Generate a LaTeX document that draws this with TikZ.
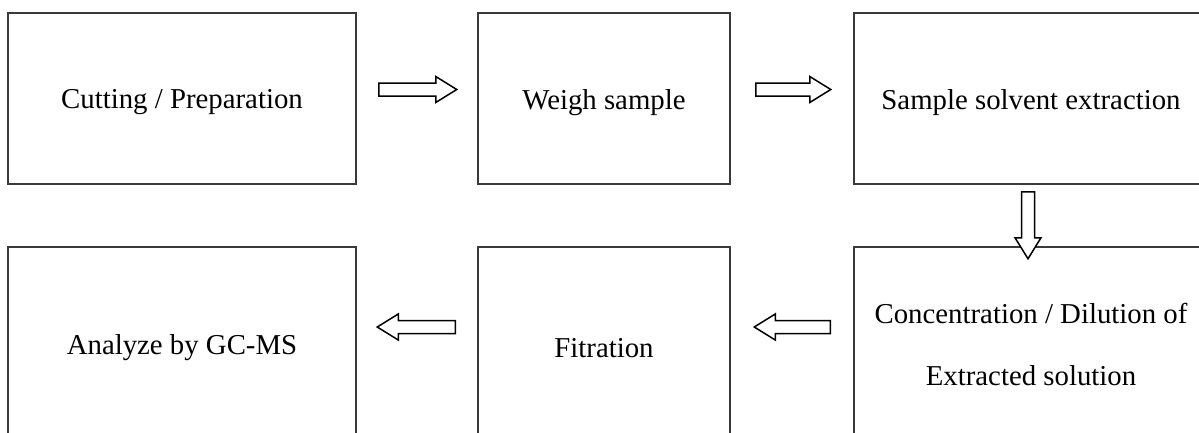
\documentclass[tikz,border=0pt]{standalone}
\usepackage{fontspec}
\setmainfont{Liberation Serif}
\usetikzlibrary{calc}
\definecolor{boxline}{HTML}{3A3A3A}
\tikzset{
  stepbox/.style={draw=boxline, line width=1.5pt, rectangle, inner sep=0pt},
  steptext/.style={align=center, inner sep=0pt, font=\fontsize{28.8}{62}\selectfont},
  pics/blockarrow/.style={code={
    \draw[black, line width=1.5pt, line join=miter, fill=white]
      (0,-6.5) -- (#1-21,-6.5) -- (#1-21,-13) -- (#1,0) -- (#1-21,13)
      -- (#1-21,6.5) -- (0,6.5) -- cycle;
  }},
}
\begin{document}
\begin{tikzpicture}[x=1pt,y=-1pt]
\useasboundingbox (0,0) rectangle (1199,432);
\clip (0,0) rectangle (1199,432);
\node[stepbox, minimum width=348pt, minimum height=171pt] (b1) at (182,98.5) {};
\node[stepbox, minimum width=252pt, minimum height=171pt] (b2) at (604,98.5) {};
\node[stepbox, minimum width=354pt, minimum height=171pt] (b3) at (1031,98.5) {};
\node[stepbox, minimum width=348pt, minimum height=194pt] (b4) at (182,344) {};
\node[stepbox, minimum width=252pt, minimum height=194pt] (b5) at (604,344) {};
\node[stepbox, minimum width=354pt, minimum height=194pt] (b6) at (1031,344) {};
\node[steptext] (t1) at ($(b1.center)+(0,4)$) {Cutting / Preparation};
\node[steptext] (t2) at ($(b2.center)+(0,4)$) {Weigh sample};
\node[steptext] (t3) at ($(b3.center)+(0,4)$) {Sample solvent extraction};
\node[steptext] (t4) at ($(b4.center)+(0,4)$) {Analyze by GC-MS};
\node[steptext] (t5) at ($(b5.center)+(0,4)$) {Fitration};
\node[steptext] (t6) at (b6.center) {Concentration / Dilution of\\Extracted solution};
% arrow start coordinates
\coordinate (a1) at ($(b1.east)+(22,-9)$);
\coordinate (a2) at ($(b2.east)+(25,-9)$);
\coordinate (a3) at ($(b3.south)+(-3,7)$);
\coordinate (a4) at ($(b6.west)+(-23,-17)$);
\coordinate (a5) at ($(b5.west)+(-22,-17)$);
\pic at (a1) {blockarrow=78};
\pic at (a2) {blockarrow=75};
\pic[rotate=-90] at (a3) {blockarrow=67};
\pic[rotate=180] at (a4) {blockarrow=76};
\pic[rotate=180] at (a5) {blockarrow=78};
\end{tikzpicture}
\end{document}
